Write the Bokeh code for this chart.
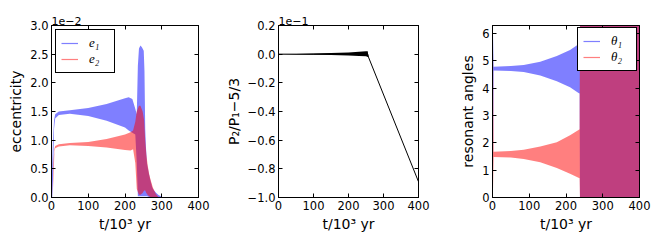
from bokeh.plotting import figure
from bokeh.layouts import row
from bokeh.models import (Range1d, FixedTicker, LinearAxis, Title, Legend,
                          LegendItem, CustomJSTickFormatter)
from bokeh.embed import file_html
from bokeh.resources import INLINE

# ---------------- data (t in 10^3 yr) ----------------
# panel 1: eccentricity envelopes, in units of 1e-2
e1_t  = [0, 2, 4, 7, 10, 20, 50, 100, 150, 200, 210, 220, 228, 232, 235, 238, 242, 246, 251, 253, 255, 257, 260, 265, 269, 274, 278, 285, 292, 305]
e1_hi = [0, 0.6, 1.0, 1.35, 1.45, 1.50, 1.52, 1.56, 1.63, 1.73, 1.75, 1.72, 1.55, 1.45, 2.30, 2.60, 2.65, 2.62, 2.56, 2.20, 1.20, 0.88, 0.59, 0.42, 0.30, 0.18, 0.13, 0.08, 0.04, 0]
e1_lo = [0, 0, 0.3, 1.2, 1.38, 1.44, 1.46, 1.42, 1.34, 1.22, 1.17, 1.13, 1.10, 0.60, 0.02, 0.02, 0.02, 0.02, 0.02, 0.02, 0.02, 0.02, 0.02, 0.01, 0, 0, 0, 0, 0, 0]

e2_t  = [0, 3, 5, 8, 10, 20, 50, 100, 150, 200, 215, 222, 228, 232, 238, 242, 248, 252, 255, 258, 262, 266, 270, 276, 284, 292]
e2_hi = [0, 0, 0.6, 0.85, 0.90, 0.93, 0.95, 0.97, 1.02, 1.10, 1.14, 1.17, 1.32, 1.50, 1.60, 1.60, 1.50, 1.35, 1.00, 0.75, 0.55, 0.40, 0.30, 0.17, 0.06, 0]
e2_lo = [0, 0, 0.3, 0.80, 0.86, 0.89, 0.91, 0.90, 0.87, 0.83, 0.82, 0.84, 0.60, 0.15, 0.05, 0.05, 0.08, 0.12, 0.12, 0.08, 0.04, 0.02, 0, 0, 0, 0]

# panel 2: P2/P1 - 5/3, in units of 1e-1
p_t  = [0, 50, 100, 150, 200, 230, 250, 255, 257, 400]
p_hi = [0, 0.002, 0.004, 0.008, 0.012, 0.016, 0.02, 0.02, -0.02, -0.89]
p_lo = [0, -0.002, -0.004, -0.006, -0.010, -0.012, -0.015, -0.02, -0.02, -0.89]
p_mid = [0, 0, 0, 0.001, 0.001, 0.002, 0.002, 0, -0.02, -0.89]

# panel 3: resonant angles (rad)
th_t   = [0, 1, 3, 50, 85, 130, 175, 211, 234, 237, 238, 400]
th1_hi = [6.2832, 6.2832, 4.78, 4.80, 4.84, 4.96, 5.17, 5.39, 5.60, 5.62, 6.2832, 6.2832]
th1_lo = [0, 0, 4.64, 4.62, 4.58, 4.46, 4.25, 4.03, 3.82, 3.80, 0, 0]
th2_hi = [6.2832, 6.2832, 1.67, 1.70, 1.74, 1.86, 2.02, 2.27, 2.47, 2.49, 6.2832, 6.2832]
th2_lo = [0, 0, 1.48, 1.46, 1.41, 1.29, 1.08, 0.87, 0.72, 0.70, 0, 0]

x_ticks = [0, 100, 200, 300, 400]
e_ticks = [0.0, 0.5, 1.0, 1.5, 2.0, 2.5, 3.0]
p_ticks = [-1.0, -0.8, -0.6, -0.4, -0.2, 0.0, 0.2]
th_ticks = [0, 1, 2, 3, 4, 5, 6]

BLUE = "#0000ff"
RED = "#ff0000"
FONT = "DejaVu Sans"


def style_axis(ax, ticks, labels=True):
    ax.ticker = FixedTicker(ticks=ticks)
    ax.major_tick_in = 4
    ax.major_tick_out = 0
    ax.minor_tick_line_color = None
    ax.axis_line_color = "black"
    ax.major_tick_line_color = "black"
    ax.major_label_standoff = 3
    ax.major_label_text_font = FONT
    ax.major_label_text_font_size = "11.5px"
    ax.major_label_text_color = "black"
    ax.axis_label_text_font = FONT
    ax.axis_label_text_font_size = "14px"
    ax.axis_label_text_font_style = "normal"
    ax.axis_label_text_color = "black"
    ax.axis_label_standoff = 3
    if not labels:
        ax.major_label_text_alpha = 0
        ax.major_label_text_font_size = "1px"
        ax.major_label_standoff = 0


def make_fig(width, left, right, yr, yticks, ylabel, digits, offset_text=None):
    p = figure(width=width, height=249,
               min_border_left=left, min_border_right=right,
               min_border_top=25, min_border_bottom=52,
               x_range=Range1d(0, 400), y_range=Range1d(*yr),
               output_backend="svg", toolbar_location=None)
    p.grid.visible = False
    p.outline_line_color = "black"
    p.outline_line_width = 1
    p.background_fill_color = "white"
    p.border_fill_color = "white"
    style_axis(p.xaxis[0], x_ticks)
    style_axis(p.yaxis[0], yticks)
    p.xaxis[0].axis_label = "t/10³ yr"
    p.yaxis[0].axis_label = ylabel
    p.yaxis[0].formatter = CustomJSTickFormatter(
        code="return tick.toFixed(%d).replace('-', '\u2212');" % digits)
    p.xaxis[0].formatter = CustomJSTickFormatter(code="return tick.toFixed(0);")
    top = LinearAxis()
    style_axis(top, x_ticks, labels=False)
    p.add_layout(top, "above")
    rgt = LinearAxis()
    style_axis(rgt, yticks, labels=False)
    p.add_layout(rgt, "right")
    if offset_text:
        p.add_layout(Title(text=offset_text, align="left", offset=0, standoff=1,
                           text_font=FONT, text_font_size="11px",
                           text_font_style="normal", text_color="black"),
                     "above")
    return p


def add_legend(p, items, loc, margin):
    lg = Legend(items=items, location=loc, margin=margin, padding=5, spacing=0,
                glyph_width=17, glyph_height=12, label_height=12,
                label_standoff=11, label_text_font="Liberation Serif",
                label_text_font_style="italic", label_text_font_size="13px",
                label_text_color="black",
                border_line_color="black", border_line_width=1,
                border_line_alpha=1, background_fill_color="white",
                background_fill_alpha=1)
    p.add_layout(lg)


HID_X = [-200, -150]
HID_Y = [-50, -50]

# ---------------- panel 1 ----------------
p1 = make_fig(222, 51, 24, (0, 3.0), e_ticks, "eccentricity", 1, "1e−2")
p1.varea(x=e1_t, y1=e1_lo, y2=e1_hi, fill_color=BLUE, fill_alpha=0.5)
p1.varea(x=e2_t, y1=e2_lo, y2=e2_hi, fill_color=RED, fill_alpha=0.5)
l1 = p1.line(x=HID_X, y=HID_Y, line_color=BLUE, line_alpha=0.5, line_width=1.2)
l2 = p1.line(x=HID_X, y=HID_Y, line_color=RED, line_alpha=0.5, line_width=1.2)
add_legend(p1, [LegendItem(label="e₁", renderers=[l1]),
                LegendItem(label="e₂", renderers=[l2])], "top_left", 4)

# ---------------- panel 2 ----------------
p2 = make_fig(222, 49, 26, (-1.0, 0.2), p_ticks, "P₂/P₁−5/3", 1, "1e−1")
p2.varea(x=p_t, y1=p_lo, y2=p_hi, fill_color="black", fill_alpha=1)
p2.line(x=p_t, y=p_mid, line_color="black", line_width=1)

# ---------------- panel 3 ----------------
p3 = make_fig(220, 48, 25, (0, 6.2832), th_ticks, "resonant angles", 0)
p3.varea(x=th_t, y1=th1_lo, y2=th1_hi, fill_color=BLUE, fill_alpha=0.5)
p3.varea(x=th_t, y1=th2_lo, y2=th2_hi, fill_color=RED, fill_alpha=0.5)
l3 = p3.line(x=HID_X, y=HID_Y, line_color=BLUE, line_alpha=0.5, line_width=1.2)
l4 = p3.line(x=HID_X, y=HID_Y, line_color=RED, line_alpha=0.5, line_width=1.2)
add_legend(p3, [LegendItem(label="θ₁", renderers=[l3]),
                LegendItem(label="θ₂", renderers=[l4])], "top_right", 2)

layout = row(p1, p2, p3, spacing=0)
open("out.html", "w").write(file_html(layout, INLINE))
